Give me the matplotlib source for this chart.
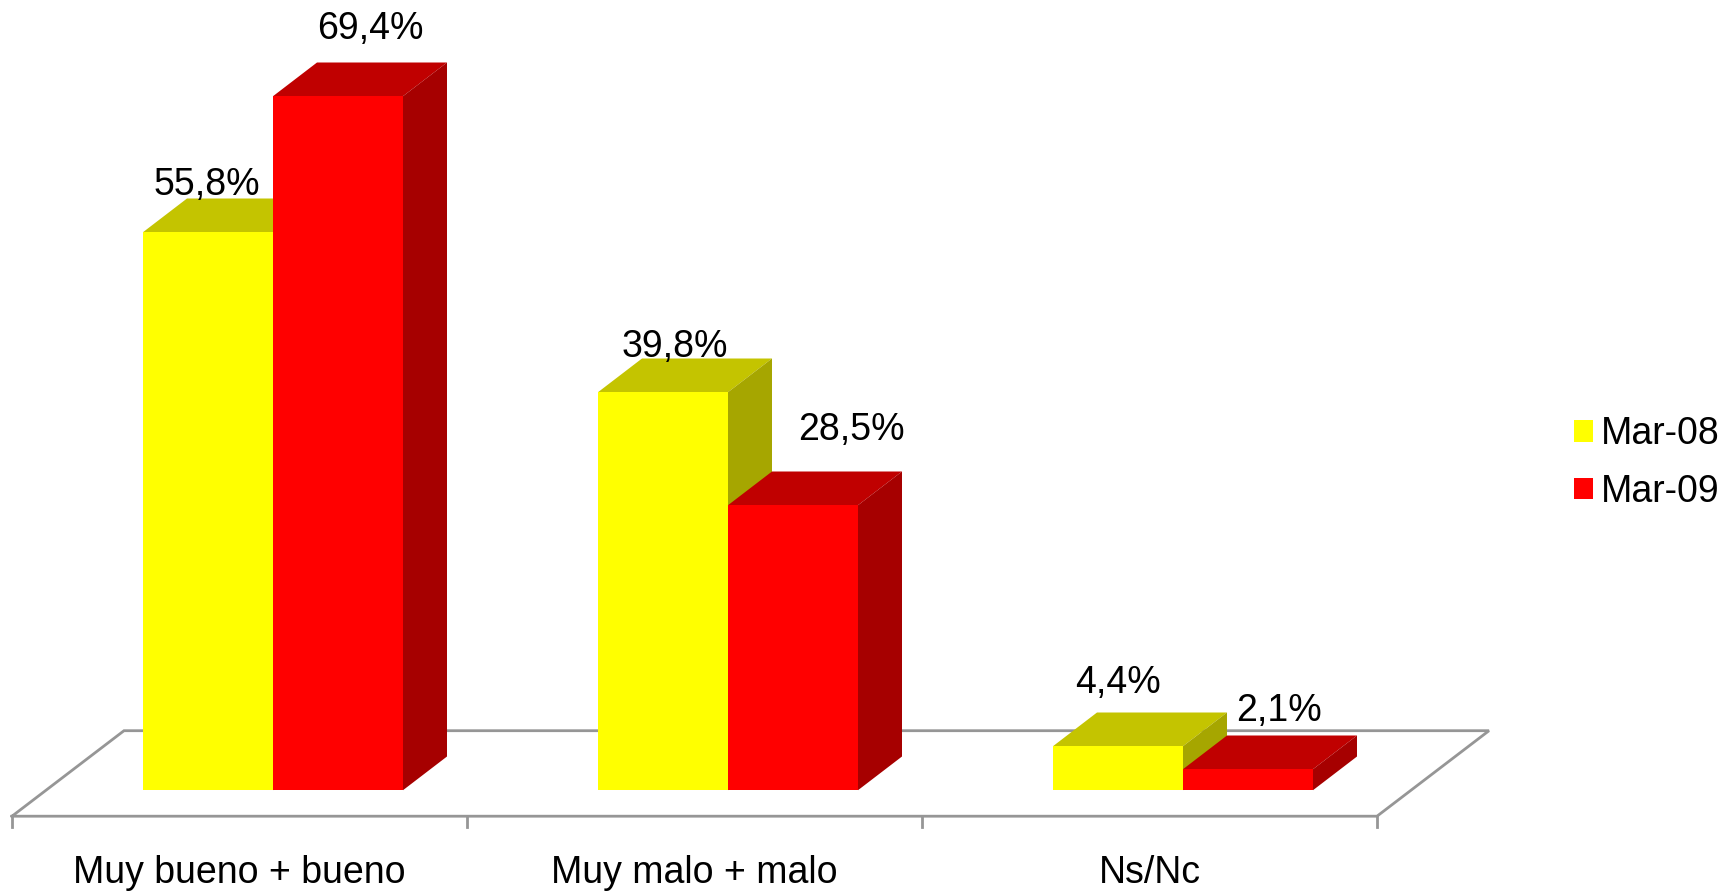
import matplotlib
matplotlib.use("Agg")
import matplotlib.pyplot as plt
from matplotlib.patches import Patch, Polygon

# Dados
categorias = ["Muy bueno + bueno", "Muy malo + malo", "Ns/Nc"]
series = ["Mar-08", "Mar-09"]
mar_08 = [55.8, 39.8, 4.4]
mar_09 = [69.4, 28.5, 2.1]
rotulos_08 = ["55,8%", "39,8%", "4,4%"]
rotulos_09 = ["69,4%", "28,5%", "2,1%"]

# Cores: frente, topo, lateral
AMARELO = ("#ffff00", "#c4c400", "#a6a600")
VERMELHO = ("#ff0000", "#c00000", "#a60000")
LINHA = "#969696"

# Anatomia do gráfico (1 categoria = 455 px, 1 ponto percentual = 10 px)
LARGURA_FIG, ALTURA_FIG = 1735, 891
PX_X, PX_Y = 455, 10
X0_PX, Y0_PX = 12, 790.2
LARGURA_BARRA = 130 / PX_X
MARGEM_BARRA = 131 / PX_X
DX, DY = 44 / PX_X, 33.7 / PX_Y
CHAO_FRENTE, CHAO_FUNDO = -2.6, 5.95
CHAO_DX = 112 / PX_X
TAM_FONTE = 27

# Deslocamento dos rótulos em px (x em relação ao centro da barra, y acima do topo)
DESLOC_08 = [(-1, 37), (12, 35.5), (0, 53)]
DESLOC_09 = [(32, 57), (58, 65.5), (31, 48)]

plt.rcParams["font.family"] = ["Liberation Sans", "DejaVu Sans"]

fig = plt.figure(figsize=(LARGURA_FIG / 100, ALTURA_FIG / 100), dpi=100, facecolor="white")
ax = fig.add_axes([0, 0, 1, 1])
ax.set_xlim(-X0_PX / PX_X, (LARGURA_FIG - X0_PX) / PX_X)
ax.set_ylim((Y0_PX - ALTURA_FIG) / PX_Y, Y0_PX / PX_Y)
ax.axis("off")

# Chão em perspectiva
n = len(categorias)
ax.plot([0, n, n + CHAO_DX, CHAO_DX, 0],
        [CHAO_FRENTE, CHAO_FRENTE, CHAO_FUNDO, CHAO_FUNDO, CHAO_FRENTE],
        color=LINHA, linewidth=2.0, solid_joinstyle="miter", zorder=1)
for i in range(n + 1):
    ax.plot([i, i], [CHAO_FRENTE, CHAO_FRENTE - 1.1], color=LINHA, linewidth=2.0, zorder=1)


def barra_3d(x, valor, cores, z):
    """Frente, topo e lateral de uma barra, da esquerda para a direita."""
    ax.bar(x, valor, width=LARGURA_BARRA, align="edge", color=cores[0], linewidth=0, zorder=z + 0.2)
    x1 = x + LARGURA_BARRA
    ax.add_patch(Polygon([(x, valor), (x1, valor), (x1 + DX, valor + DY), (x + DX, valor + DY)],
                         closed=True, facecolor=cores[1], linewidth=0, zorder=z))
    ax.add_patch(Polygon([(x1, 0), (x1, valor), (x1 + DX, valor + DY), (x1 + DX, DY)],
                         closed=True, facecolor=cores[2], linewidth=0, zorder=z))


def rotulo(x, valor, texto, desloc):
    ax.annotate(texto, xy=(x + LARGURA_BARRA / 2, valor), xytext=desloc,
                textcoords="offset pixels", ha="center", va="baseline",
                fontsize=TAM_FONTE, color="black", zorder=10)


for i in range(n):
    x_08 = i + MARGEM_BARRA
    x_09 = x_08 + LARGURA_BARRA
    barra_3d(x_08, mar_08[i], AMARELO, 2)
    barra_3d(x_09, mar_09[i], VERMELHO, 3)
    rotulo(x_08, mar_08[i], rotulos_08[i], DESLOC_08[i])
    rotulo(x_09, mar_09[i], rotulos_09[i], DESLOC_09[i])
    ax.text(i + 0.5, (Y0_PX - 882.7) / PX_Y, categorias[i], ha="center", va="baseline",
            fontsize=TAM_FONTE, color="black")

alcas = [Patch(facecolor=AMARELO[0], label=series[0]), Patch(facecolor=VERMELHO[0], label=series[1])]
ax.legend(handles=alcas, loc="center left", bbox_to_anchor=(1574 / LARGURA_FIG, 1 - 463 / ALTURA_FIG),
          frameon=False, fontsize=TAM_FONTE, borderpad=0, borderaxespad=0,
          handlelength=0.51, handleheight=0.51, handletextpad=0.2, labelspacing=0.58)

fig.savefig("out.png", dpi=100, facecolor="white")
